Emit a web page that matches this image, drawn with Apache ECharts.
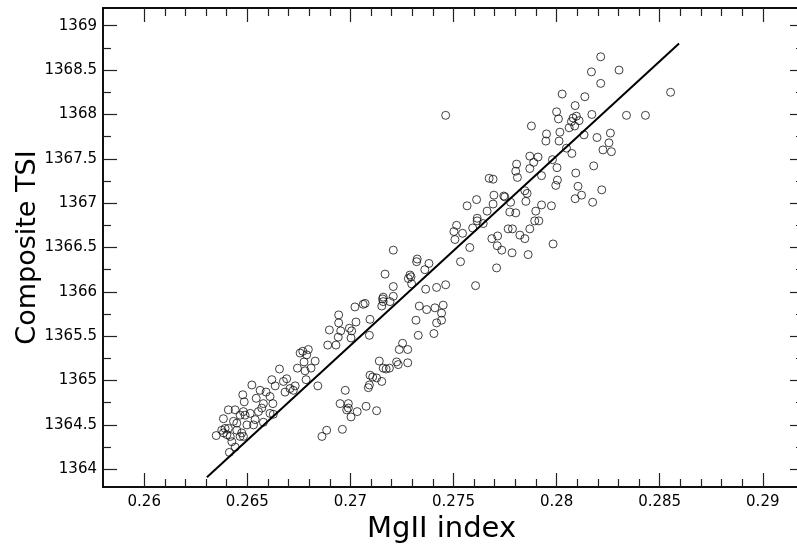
<!DOCTYPE html>
<html>
<head>
<meta charset="utf-8">
<script src="https://cdn.jsdelivr.net/npm/echarts@6/dist/echarts.min.js"></script>
<style>
  html, body { margin: 0; padding: 0; background: #fff; }
  #main { width: 797px; height: 546px; }
</style>
</head>
<body>
<div id="main"></div>
<script>
// MgII index (x) and composite TSI (y) for each observation
const mg = [
  0.26349, 0.26413, 0.26376, 0.26384, 0.26401, 0.26417, 0.26425, 0.26441, 0.26392, 0.26408,
  0.26449, 0.26473, 0.26465, 0.26481, 0.26433, 0.26449, 0.26384, 0.26408, 0.26441, 0.26465,
  0.26481, 0.26489, 0.26498, 0.2653, 0.26538, 0.26514, 0.26554, 0.2657, 0.26578, 0.26624,
  0.2661, 0.26626, 0.26578, 0.2661, 0.26543, 0.26485, 0.26478, 0.26522, 0.26562, 0.26591,
  0.26619, 0.26635, 0.26675, 0.26656, 0.26691, 0.26707, 0.26683,
  0.27022, 0.27071, 0.27062, 0.27152, 0.27159, 0.27192, 0.27334, 0.2737, 0.2741, 0.2745,
  0.27442, 0.27442, 0.27418, 0.27405, 0.27318, 0.27329, 0.26943, 0.26943, 0.26953, 0.26898,
  0.26995, 0.27006, 0.27027, 0.27003, 0.26941, 0.27095, 0.27092, 0.2689, 0.2693, 0.26756,
  0.26769, 0.26796, 0.26788, 0.26775, 0.26829, 0.26743, 0.2678, 0.26809, 0.26785, 0.26842,
  0.26732, 0.26723, 0.26975, 0.2695, 0.2699, 0.2699, 0.26982, 0.27003, 0.27033, 0.27076,
  0.27127, 0.26885, 0.26862, 0.26961, 0.2714, 0.27095, 0.27108, 0.27127, 0.27152, 0.27092,
  0.27087, 0.27159, 0.27173, 0.27189, 0.27224, 0.27232, 0.27278, 0.27237, 0.27253, 0.27278,
  0.27208, 0.27324, 0.27321, 0.27381, 0.27361, 0.27168, 0.27289, 0.27281, 0.27294, 0.27208,
  0.27297, 0.27365, 0.27418, 0.27462, 0.27208, 0.27159, 0.27156, 0.27566, 0.27612, 0.27515,
  0.27502, 0.27544, 0.27593, 0.27615, 0.27615, 0.27507, 0.27579, 0.27534, 0.27607,
  0.27462,
  0.28214, 0.28303, 0.28169, 0.28214, 0.28027, 0.28137, 0.2809, 0.28, 0.28009, 0.2808,
  0.28096, 0.28109, 0.28072, 0.28088, 0.28061, 0.28171, 0.28339, 0.28431, 0.27878, 0.27951,
  0.27948, 0.28016, 0.28012, 0.28133, 0.28196, 0.28261, 0.28254, 0.28225, 0.28266, 0.28048,
  0.28074, 0.2787, 0.2791, 0.2798, 0.28553,
  0.27889, 0.2787, 0.27806, 0.27802, 0.2781, 0.27673, 0.27692, 0.28002, 0.27927, 0.28093,
  0.2818, 0.28004, 0.27996, 0.28104, 0.28121, 0.2809, 0.28219, 0.28175, 0.27846, 0.27857,
  0.27851, 0.27744, 0.27749, 0.27696, 0.27692, 0.27663, 0.27777, 0.27773, 0.27802, 0.27899,
  0.27927, 0.27975, 0.27894, 0.27914, 0.2787, 0.27822, 0.27846, 0.27765, 0.27786, 0.27714,
  0.27686, 0.27712, 0.27734, 0.27784, 0.27862, 0.27983, 0.27709, 0.27644
];
const tsi = [
  1364.38, 1364.19, 1364.44, 1364.41, 1364.39, 1364.37, 1364.31, 1364.25, 1364.46, 1364.46,
  1364.44, 1364.41, 1364.37, 1364.37, 1364.54, 1364.52, 1364.57, 1364.67, 1364.67, 1364.61,
  1364.65, 1364.61, 1364.50, 1364.50, 1364.56, 1364.63, 1364.65, 1364.69, 1364.74, 1364.74,
  1364.63, 1364.62, 1364.53, 1364.82, 1364.80, 1364.76, 1364.84, 1364.95, 1364.89, 1364.87,
  1365.01, 1364.94, 1364.99, 1365.13, 1365.02, 1364.91, 1364.87,
  1365.83, 1365.87, 1365.86, 1365.84, 1365.89, 1365.89, 1365.84, 1365.80, 1365.82, 1365.85,
  1365.76, 1365.68, 1365.65, 1365.53, 1365.68, 1365.51, 1365.74, 1365.65, 1365.56, 1365.57,
  1365.59, 1365.56, 1365.66, 1365.48, 1365.49, 1365.69, 1365.51, 1365.40, 1365.40, 1365.31,
  1365.33, 1365.35, 1365.29, 1365.21, 1365.22, 1365.14, 1365.11, 1365.14, 1365.01, 1364.94,
  1364.94, 1364.89, 1364.89, 1364.74, 1364.74, 1364.69, 1364.67, 1364.59, 1364.65, 1364.71,
  1364.66, 1364.44, 1364.37, 1364.45, 1365.22, 1365.06, 1365.04, 1365.03, 1364.99, 1364.95,
  1364.92, 1365.14, 1365.13, 1365.14, 1365.21, 1365.18, 1365.20, 1365.35, 1365.42, 1365.35,
  1366.47, 1366.37, 1366.34, 1366.32, 1366.25, 1366.20, 1366.19, 1366.15, 1366.17, 1366.06,
  1366.09, 1366.03, 1366.05, 1366.08, 1365.95, 1365.94, 1365.92, 1366.97, 1367.04, 1366.75,
  1366.68, 1366.66, 1366.72, 1366.83, 1366.80, 1366.59, 1366.50, 1366.34, 1366.07,
  1367.99,
  1368.65, 1368.50, 1368.48, 1368.35, 1368.23, 1368.20, 1368.10, 1368.03, 1367.95, 1367.96,
  1367.98, 1367.93, 1367.92, 1367.87, 1367.85, 1368.00, 1367.99, 1367.99, 1367.87, 1367.78,
  1367.70, 1367.80, 1367.70, 1367.77, 1367.74, 1367.79, 1367.68, 1367.60, 1367.58, 1367.62,
  1367.56, 1367.53, 1367.52, 1367.49, 1368.25,
  1367.46, 1367.39, 1367.44, 1367.36, 1367.29, 1367.28, 1367.27, 1367.40, 1367.31, 1367.34,
  1367.42, 1367.26, 1367.20, 1367.19, 1367.09, 1367.05, 1367.15, 1367.01, 1367.14, 1367.11,
  1367.02, 1367.08, 1367.07, 1367.09, 1366.99, 1366.91, 1367.01, 1366.90, 1366.89, 1366.91,
  1366.98, 1366.97, 1366.80, 1366.80, 1366.71, 1366.64, 1366.60, 1366.71, 1366.71, 1366.63,
  1366.60, 1366.52, 1366.47, 1366.44, 1366.42, 1366.54, 1366.27, 1366.77
];

// regression line end points
const fitX = [0.26304, 0.28594];
const fitY = [1363.91, 1368.80];

// tick positions
const xMajor = [0.26, 0.265, 0.27, 0.275, 0.28, 0.285, 0.29];
const xMinor = [0.261, 0.262, 0.263, 0.264, 0.266, 0.267, 0.268, 0.269, 0.271, 0.272, 0.273, 0.274,
  0.276, 0.277, 0.278, 0.279, 0.281, 0.282, 0.283, 0.284, 0.286, 0.287, 0.288, 0.289];
const yMajor = [1364, 1364.5, 1365, 1365.5, 1366, 1366.5, 1367, 1367.5, 1368, 1368.5, 1369];
const yMinor = [1364.25, 1364.75, 1365.25, 1365.75, 1366.25, 1366.75, 1367.25, 1367.75, 1368.25, 1368.75];

const X_MIN = 0.258, X_MAX = 0.292;
const Y_MIN = 1363.8, Y_MAX = 1369.2;

const chart = echarts.init(document.getElementById('main'), null, { renderer: 'canvas' });

const lbl = { fontFamily: 'DejaVu Sans', fontSize: 15, color: '#000', formatter: v => String(v) };
const frame = { show: true, onZero: false, lineStyle: { color: '#000', width: 1.5 } };

function xAx(pos, ticks, len, labels) {
  return {
    type: 'value', position: pos, min: X_MIN, max: X_MAX, scale: true,
    axisLine: frame,
    axisTick: { show: true, inside: true, length: len, customValues: ticks, lineStyle: { color: '#222', width: 1.2 } },
    axisLabel: labels ? Object.assign({ show: true, margin: 8, customValues: ticks }, lbl) : { show: false },
    splitLine: { show: false }
  };
}
function yAx(pos, ticks, len, labels) {
  return {
    type: 'value', position: pos, min: Y_MIN, max: Y_MAX, scale: true,
    axisLine: frame,
    axisTick: { show: true, inside: true, length: len, customValues: ticks, lineStyle: { color: '#222', width: 1.2 } },
    axisLabel: labels ? Object.assign({ show: true, margin: 6, customValues: ticks }, lbl) : { show: false },
    splitLine: { show: false }
  };
}

const xAxes = [
  xAx('bottom', xMajor, 14, true),
  xAx('bottom', xMinor, 8, false),
  xAx('top', xMajor, 14, false),
  xAx('top', xMinor, 8, false)
];
xAxes[0].name = 'MgII index';
xAxes[0].nameLocation = 'middle';
xAxes[0].nameGap = 21;
xAxes[0].nameTextStyle = { fontFamily: 'DejaVu Sans', fontSize: 29, color: '#000', padding: [0, 24, 0, 0] };

const yAxes = [
  yAx('left', yMajor, 14, true),
  yAx('left', yMinor, 8, false),
  yAx('right', yMajor, 14, false),
  yAx('right', yMinor, 8, false)
];
yAxes[0].name = 'Composite TSI';
yAxes[0].nameLocation = 'middle';
yAxes[0].nameGap = 62;
yAxes[0].nameMoveOverlap = false;
yAxes[0].nameTextStyle = { fontFamily: 'DejaVu Sans', fontSize: 27, color: '#000' };

const option = {
  backgroundColor: '#fff',
  animation: false,
  grid: { left: 103, top: 8, width: 701, height: 479, containLabel: false, outerBoundsMode: 'none' },
  xAxis: xAxes,
  yAxis: yAxes,
  series: [
    {
      type: 'scatter',
      xAxisIndex: 0,
      yAxisIndex: 0,
      symbol: 'circle',
      symbolSize: 8,
      itemStyle: { color: 'rgba(0,0,0,0)', borderColor: '#111', borderWidth: 1 },
      data: mg.map((v, i) => [v, tsi[i]]),
      z: 3
    },
    {
      type: 'line',
      xAxisIndex: 0,
      yAxisIndex: 0,
      showSymbol: false,
      symbol: 'none',
      lineStyle: { color: '#000', width: 2 },
      data: fitX.map((v, i) => [v, fitY[i]]),
      z: 4
    }
  ]
};
chart.setOption(option);
</script>
</body>
</html>
